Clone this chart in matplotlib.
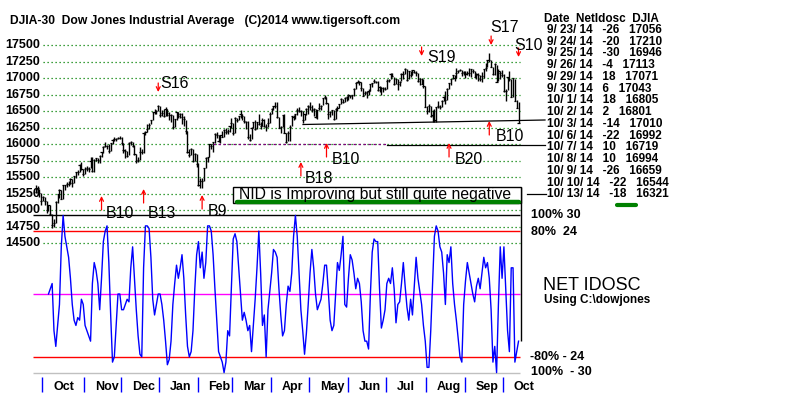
import numpy as np
import matplotlib
matplotlib.use("Agg")
import matplotlib.pyplot as plt
from matplotlib.patches import Rectangle

plt.rcParams["font.family"] = ["Liberation Sans", "DejaVu Sans"]

# ---- data: DJIA daily bars, 9/25/13 .. 10/13/14 (trading days) ----
closes = [
    15273, 15328, 15258, 15130,
    15191, 15133, 14997, 15073, 14936, 14776, 14802, 15127, 15237, 15301, 15168, 15374,
    15372, 15399, 15392, 15467, 15413, 15509, 15570, 15569, 15680, 15618, 15546,
    15615, 15639, 15618, 15747, 15594, 15762, 15783, 15751, 15822, 15876, 15962, 15976,
    15968, 15901, 16010, 16065, 16073, 16073, 16097, 16086,
    16009, 15915, 15889, 15822, 16020, 16026, 15974, 15844, 15740, 15756, 15885, 15876,
    16168, 16179, 16221, 16295, 16358, 16479, 16479, 16505, 16577,
    16441, 16470, 16425, 16531, 16463, 16444, 16437, 16257, 16374, 16482, 16418, 16459,
    16415, 16374, 16198, 15879, 15838, 15929, 15739, 15849, 15699,
    15373, 15445, 15441, 15629, 15795, 15801, 15994, 15964, 16027, 16154, 16130, 16041,
    16134, 16104, 16208, 16180, 16198, 16273, 16322,
    16168, 16396, 16361, 16422, 16453, 16418, 16351, 16340, 16108, 16065, 16247, 16337,
    16223, 16332, 16303, 16276, 16367, 16269, 16264, 16323, 16458,
    16533, 16573, 16573, 16413, 16246, 16257, 16438, 16171, 16027, 16174, 16263, 16425,
    16409, 16449, 16514, 16501, 16502, 16361, 16448, 16535, 16581,
    16558, 16513, 16531, 16402, 16518, 16551, 16583, 16695, 16715, 16614, 16447, 16492,
    16512, 16374, 16533, 16543, 16606, 16676, 16634, 16699, 16717,
    16744, 16722, 16738, 16836, 16924, 16944, 16945, 16843, 16734, 16776, 16781, 16808,
    16907, 16921, 16947, 16937, 16818, 16868, 16846, 16851, 16827,
    16956, 16976, 17068, 17024, 16906, 16985, 16915, 16944, 17055, 17061, 17138, 16977,
    17100, 17052, 17114, 17087, 17083, 16961, 16983, 16912, 16881, 16563,
    16493, 16570, 16430, 16443, 16369, 16554, 16570, 16561, 16652, 16713, 16663, 16839,
    16920, 16980, 17040, 17001, 17077, 17107, 17123, 17080, 17098,
    17068, 17079, 17070, 17138, 17112, 17014, 17068, 17050, 16988, 17031, 17132, 17157,
    17266, 17280, 17173, 17056, 17210, 16946, 17113, 17071, 17043,
    16805, 16801, 17010, 16992, 16719, 16994, 16659, 16544, 16321,
]
highs = [
    15380, 15370, 15325, 15255,
    15210, 15190, 15130, 15080, 15070, 14940, 14860, 15130, 15250, 15320, 15300, 15380,
    15380, 15420, 15440, 15480, 15465, 15520, 15575, 15600, 15690, 15720, 15620,
    15650, 15660, 15650, 15800, 15800, 15770, 15790, 15785, 15840, 15880, 15965, 16030,
    15990, 16000, 16020, 16070, 16110, 16090, 16110, 16120,
    16100, 16010, 15930, 15900, 16030, 16050, 16030, 15980, 15850, 15800, 15950, 15920,
    16170, 16190, 16300, 16320, 16360, 16480, 16530, 16510, 16590,
    16570, 16520, 16530, 16560, 16530, 16480, 16450, 16440, 16380, 16490, 16490, 16470,
    16470, 16420, 16370, 16190, 15920, 15940, 15920, 15870, 15850,
    15710, 15480, 15480, 15630, 15800, 15810, 16000, 16000, 16030, 16160, 16180, 16140,
    16140, 16190, 16230, 16240, 16230, 16280, 16400,
    16320, 16410, 16400, 16430, 16510, 16460, 16420, 16350, 16350, 16150, 16260, 16340,
    16360, 16340, 16450, 16330, 16400, 16380, 16300, 16400, 16480,
    16540, 16580, 16630, 16630, 16410, 16270, 16440, 16450, 16170, 16200, 16290, 16430,
    16440, 16450, 16550, 16560, 16520, 16500, 16460, 16540, 16590,
    16630, 16590, 16540, 16530, 16520, 16620, 16590, 16700, 16740, 16710, 16620, 16500,
    16520, 16510, 16540, 16570, 16610, 16690, 16680, 16710, 16720,
    16760, 16750, 16750, 16850, 16940, 16970, 16960, 16940, 16850, 16800, 16810, 16840,
    16910, 16930, 16980, 16960, 16950, 16880, 16870, 16860, 16870,
    16990, 16980, 17070, 17070, 17020, 16990, 16990, 16960, 17080, 17100, 17150, 17140,
    17110, 17100, 17120, 17120, 17110, 17080, 17000, 17000, 16990, 16880,
    16570, 16600, 16570, 16510, 16530, 16560, 16650, 16590, 16660, 16720, 16800, 16850,
    16930, 16990, 17050, 17050, 17150, 17120, 17140, 17120, 17100,
    17110, 17100, 17150, 17140, 17140, 17110, 17070, 17070, 17050, 17090, 17140, 17230,
    17280, 17380, 17280, 17170, 17220, 17200, 17140, 17110, 17120,
    17060, 16830, 17020, 17100, 16980, 17000, 16990, 16670, 16640,
]
lows = [
    15260, 15260, 15200, 15080,
    15130, 15080, 14960, 14990, 14930, 14720, 14740, 14810, 15110, 15180, 15160, 15170,
    15310, 15350, 15370, 15390, 15350, 15410, 15490, 15530, 15570, 15600, 15520,
    15540, 15590, 15570, 15640, 15580, 15580, 15740, 15710, 15710, 15800, 15870, 15950,
    15920, 15870, 15900, 16000, 16050, 16040, 16070, 16070,
    15990, 15870, 15790, 15810, 15830, 15990, 15960, 15830, 15710, 15720, 15760, 15850,
    15870, 16130, 16180, 16220, 16300, 16360, 16460, 16450, 16500,
    16410, 16430, 16410, 16430, 16420, 16370, 16330, 16230, 16260, 16370, 16400, 16390,
    16300, 16280, 16150, 15870, 15800, 15840, 15730, 15740, 15650,
    15360, 15340, 15340, 15440, 15630, 15720, 15800, 15920, 15880, 16010, 16090, 16030,
    16020, 16100, 16100, 16150, 16150, 16180, 16240,
    16130, 16170, 16340, 16360, 16390, 16370, 16320, 16220, 16070, 16040, 16080, 16250,
    16210, 16220, 16290, 16230, 16280, 16260, 16200, 16260, 16320,
    16460, 16520, 16540, 16400, 16240, 16170, 16260, 16160, 16010, 16050, 16040, 16270,
    16370, 16380, 16440, 16490, 16430, 16320, 16360, 16440, 16450,
    16520, 16480, 16420, 16400, 16380, 16510, 16520, 16590, 16680, 16600, 16380, 16410,
    16440, 16360, 16380, 16500, 16540, 16610, 16620, 16630, 16650,
    16670, 16690, 16680, 16720, 16840, 16920, 16890, 16800, 16720, 16740, 16700, 16740,
    16800, 16870, 16920, 16920, 16800, 16790, 16740, 16790, 16820,
    16830, 16940, 16980, 17010, 16900, 16910, 16820, 16880, 16950, 16990, 17060, 16960,
    16980, 17010, 17050, 17070, 17030, 16940, 16890, 16910, 16850, 16560,
    16450, 16490, 16410, 16330, 16330, 16340, 16550, 16530, 16560, 16650, 16600, 16660,
    16840, 16900, 16980, 16960, 17000, 17070, 17100, 17030, 17050,
    17000, 17040, 17030, 17010, 17070, 17010, 16990, 16950, 16960, 16940, 17000, 17100,
    17160, 17240, 17160, 17050, 17050, 16940, 16960, 16990, 17020,
    16790, 16650, 16820, 16960, 16710, 16710, 16650, 16540, 16320,
]
nan = float("nan")
net_idosc = [
    nan, nan, nan, nan, nan, nan, nan, 0, 2, 4,
    -14, -20, -12, -4, 18, 30, 22, 18, 14, 6,
    -4, -10, -12, -9, -10, -2, -4, -12, -14, -16,
    -18, 4, 12, 9, 4, -6, 6, 20, 24, 26,
    12, -8, -26, -24, -12, 0, 0, -6, -6, -4,
    -2, -3, 10, 18, 6, -6, -16, -23, -24, 10,
    26, 26, 25, 14, -2, -8, -4, 0, 0, -4,
    -10, -18, -27, -25, -18, -4, 4, 11, 6, 10,
    15, 6, -8, -20, -24, -22, -14, 2, 15, 20,
    10, 16, 6, 12, 26, 26, 24, 15, 2, -10,
    -22, -24, -26, -30, -26, -14, -16, 2, 21, 23,
    20, 10, 0, -10, -7, -10, -14, -12, -22, -12,
    -2, 10, 24, 8, -12, -8, -24, -6, 1, 8,
    17, 16, 14, 2, -8, -16, -14, -4, 3, 1,
    8, 22, 30, 22, 8, -6, -14, -23, -15, -4,
    8, 17, 10, 0, -6, -4, -2, 4, 11, 11,
    1, -10, -14, -12, 0, 12, 9, 15, 22, -4,
    -5, 6, 15, 13, 8, 2, 6, 4, -3, -14,
    -18, -18, -21, 0, 16, 21, 20, 20, 2, -13,
    -10, -6, 4, 6, 4, 10, 2, -11, -4, -3,
    4, 12, 3, -5, -10, -2, -8, 3, 14, 6,
    1, -4, -12, -18, -28, -28, -14, 4, 22, 26,
    24, 18, 16, 8, -4, 15, 12, 18, 4, -4,
    -10, -17, -24, -26, -4, 5, 12, 8, 4, 0,
    -3, 3, 6, 2, 8, 14, 10, 12, 6, -6,
    -26, -20, -30, -4, 18, 6, 18, 2, -14, -22,
    10, 10, -26, -22, -18,
]
month_names = ["Oct", "Nov", "Dec", "Jan", "Feb", "Mar", "Apr", "May", "Jun", "Jul", "Aug", "Sep", "Oct"]
month_start = [4, 27, 47, 68, 89, 108, 129, 150, 171, 192, 214, 235, 256]
price_levels = [14500, 14750, 15000, 15250, 15500, 15750, 16000, 16250, 16500, 16750, 17000, 17250, 17500]
signal_names = ["B10", "B13", "S16", "B9", "B18", "B10", "S19", "B20", "B10", "S17", "S10"]
signal_days = [36, 59, 67, 91, 145, 159, 211, 226, 248, 249, 264]
table_dates = ["9/ 23/ 14", "9/ 24/ 14", "9/ 25/ 14", "9/ 26/ 14", "9/ 29/ 14", "9/ 30/ 14",
               "10/ 1/ 14", "10/ 2/ 14", "10/ 3/ 14", "10/ 6/ 14", "10/ 7/ 14", "10/ 8/ 14",
               "10/ 9/ 14", "10/ 10/ 14", "10/ 13/ 14"]

# ---- screen layout (pixels of the 800x397 grab) ----
W, H = 800, 397
DAY_PX, X0_PX, X0_DAY = 1.829, 43, 4
P_REF, P_REF_Y, P_PX = 17500, 45, 0.066
O_ZERO_Y, O_PX = 294, 2.62


def day_at(xp):
    return X0_DAY + (xp - X0_PX) / DAY_PX


def price_at(yp):
    return P_REF - (yp - P_REF_Y) / P_PX


def osc_at(yp):
    return (O_ZERO_Y - yp) / O_PX


def put(xp, yp, s, **kw):
    fig.text(xp / W, 1 - yp / H, s, **kw)


days = np.arange(len(closes))

fig = plt.figure(figsize=(8, 3.97), dpi=100)
ax = fig.add_axes([0, 0, 1, 1])
ax.set_xlim(day_at(0), day_at(W))
ax.set_ylim(price_at(H), price_at(0))
ax.axis("off")
axo = ax.twinx()
axo.set_xlim(day_at(0), day_at(W))
axo.set_ylim(osc_at(H), osc_at(0))
axo.axis("off")

# price grid + labels
ax.hlines(price_levels, day_at(43), day_at(520), colors="#008000",
          linestyles=(0, (1, 2.2)), lw=0.9)
for lv in price_levels:
    ax.text(day_at(40), lv, str(lv), ha="right", va="center", fontsize=9, fontweight="bold")

# oscillator reference lines
x_a, x_b = day_at(33), day_at(520)
axo.hlines(30, x_a, x_b, colors="black", lw=1)
axo.hlines([24, -24], x_a, x_b, colors="#ff0000", lw=1)
axo.hlines(0, x_a, x_b, colors="#ff00ff", lw=1)
axo.hlines(-30, x_a, x_b, colors="#c0c0c0", lw=1)
axo.plot(days, net_idosc, color="#0000ff", lw=1)

# price bars
ax.vlines(days, lows, highs, colors="black", lw=1)
ax.hlines(closes, days - 0.6, days + 0.6, colors="black", lw=0.9)

# support lines
ax.plot([day_at(213), day_at(387)], [16000, 16000], color="#800080", lw=0.9, ls=(0, (2, 2)))
ax.plot([day_at(387), day_at(545)], [15992, 15992], color="black", lw=0.9)
ax.plot([day_at(303), day_at(545)], [price_at(124.5), price_at(120)], color="black", lw=0.9)

# signals
tip_y = [196, 189, 92, 195, 162, 143, 56, 143, 121, 45, 57]
lab_xy = [(106, 213), (148, 213), (160, 84), (208, 212), (305, 178), (332, 160),
          (427, 58), (455, 160), (496, 137), (490, 27), (514, 45)]
for name, d, ty, (lx, ly) in zip(signal_names, signal_days, tip_y, lab_xy):
    base = ty + 14 if name[0] == "B" else ty - 9
    ax.annotate("", xy=(d, price_at(ty)), xytext=(d, price_at(base)),
                arrowprops=dict(arrowstyle="->", color="#ff0000", lw=0.9,
                                shrinkA=0, shrinkB=0, mutation_scale=7))
    put(lx, ly, name, fontsize=11.5, va="center", ha="left")

# NID box
fig.add_artist(Rectangle((233 / W, 1 - 203 / H), 288 / W, 16 / H, transform=fig.transFigure,
                         facecolor="white", edgecolor="black", lw=1))
fig.add_artist(plt.Line2D([237 / W, 519 / W], [1 - 201.5 / H] * 2, transform=fig.transFigure,
                          color="#008000", lw=3.2, solid_capstyle="round"))
put(239, 194, "NID is Improving but still quite negative", fontsize=11.3, va="center")
axo.vlines(day_at(521), net_idosc[-1], osc_at(187), colors="black", lw=1)
fig.add_artist(plt.Line2D([527 / W, 546 / W], [1 - 194 / H] * 2, transform=fig.transFigure,
                          color="black", lw=0.9))

# month axis
axo.vlines(np.array(month_start) - 0.5, osc_at(392), osc_at(377), colors="#0000ff", lw=1)
for m, s in zip(month_names, month_start):
    axo.text(s + 5.5, osc_at(387), m, ha="left", va="center", fontsize=9, fontweight="bold")

# title
put(10, 21, "DJIA-30  Dow Jones Industrial Average   (C)2014 www.tigersoft.com",
    fontsize=8.7, fontweight="bold", va="center")

# table of the last 15 days
put(544, 18.5, "Date  NetIdosc  DJIA", fontsize=8.5, fontweight="bold", va="center")
for k, (d, n, c) in enumerate(zip(table_dates, net_idosc[-15:], closes[-15:])):
    put(547, 29.8 + k * 11.76, f"{d}   {n:d}   {c}", fontsize=8.5, fontweight="bold", va="center")
fig.add_artist(plt.Line2D([617 / W, 636 / W], [1 - 204.5 / H] * 2, transform=fig.transFigure,
                          color="#008000", lw=3, solid_capstyle="round"))

# oscillator scale notes
put(531, 215.5, "100% 30", fontsize=9, fontweight="bold", va="center")
put(531, 232, "80%  24", fontsize=9, fontweight="bold", va="center")
put(543, 285, "NET IDOSC", fontsize=13, va="center")
put(544, 300.5, "Using C:\\dowjones", fontsize=8.5, fontweight="bold", va="center")
put(530, 356.5, "-80% - 24", fontsize=9, fontweight="bold", va="center")
put(531, 372, "100%  - 30", fontsize=9, fontweight="bold", va="center")

fig.savefig("out.png", dpi=100, facecolor="white")
